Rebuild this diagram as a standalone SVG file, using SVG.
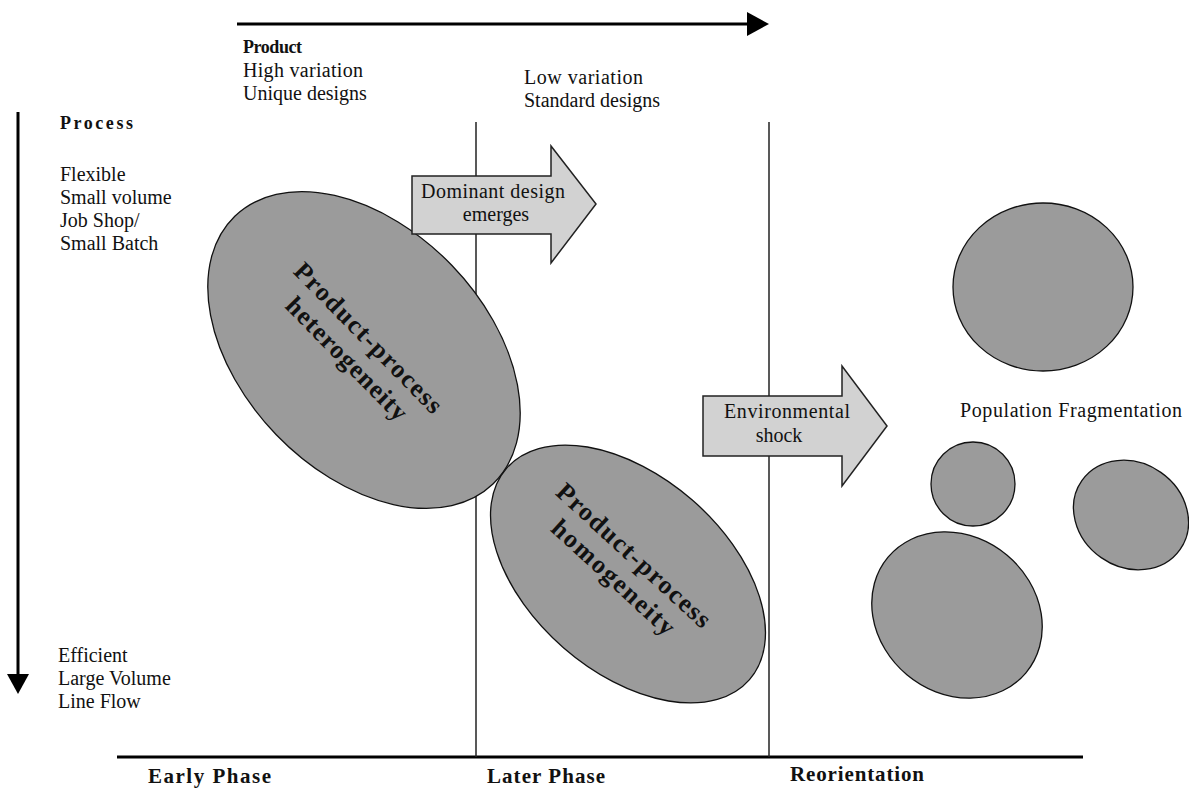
<svg xmlns="http://www.w3.org/2000/svg" width="1189" height="791" viewBox="0 0 1189 791">
<style>
  .t { font-family: "Liberation Serif", "Times New Roman", serif; font-size: 20px; fill: #111; }
  .b { font-family: "Liberation Serif", "Times New Roman", serif; font-weight: bold; fill: #111; }
  .blob { fill: #9b9b9b; stroke: #111; stroke-width: 1.3; }
  .barrow { fill: #d2d2d2; stroke: #222; stroke-width: 1.5; }
  .phase { stroke: #222; stroke-width: 1.5; fill: none; }
  .axis { stroke: #000; stroke-width: 3; fill: none; }
</style>
<rect width="1189" height="791" fill="#fff"/>

<g id="axes">
  <line class="axis" x1="237" y1="24" x2="750" y2="24"/>
  <polygon points="747,12 769,24 747,36" fill="#000"/>
  <line class="axis" x1="18" y1="112" x2="18" y2="677"/>
  <polygon points="7,674 29,674 18,694" fill="#000"/>
  <line class="axis" x1="117" y1="757" x2="1083" y2="757"/>
</g>

<g id="connectors">
  <line class="phase" x1="476" y1="122" x2="476" y2="757"/>
  <line class="phase" x1="769" y1="122" x2="769" y2="757"/>
</g>

<g id="product-labels">
  <text class="b" x="243" y="53" font-size="18" textLength="59">Product</text>
  <text class="t" x="243" y="77" textLength="120">High variation</text>
  <text class="t" x="243" y="100">Unique designs</text>
  <text class="t" x="524" y="84" textLength="119">Low variation</text>
  <text class="t" x="524" y="107">Standard designs</text>
</g>

<g id="process-labels">
  <text class="b" x="60" y="129" font-size="18" textLength="73">Process</text>
  <text class="t" x="60" y="181">Flexible</text>
  <text class="t" x="60" y="204">Small volume</text>
  <text class="t" x="60" y="227">Job Shop/</text>
  <text class="t" x="60" y="250">Small Batch</text>
  <text class="t" x="58" y="662">Efficient</text>
  <text class="t" x="58" y="685">Large Volume</text>
  <text class="t" x="58" y="708">Line Flow</text>
</g>

<g id="phase-labels">
  <text class="b" x="148" y="783" font-size="21" textLength="123">Early Phase</text>
  <text class="b" x="487" y="783" font-size="21" textLength="118">Later Phase</text>
  <text class="b" x="790" y="781" font-size="21" textLength="134">Reorientation</text>
</g>

<g id="heterogeneity">
  <ellipse class="blob" cx="364" cy="350" rx="186" ry="122" transform="rotate(46 364 350)"/>
  <g transform="translate(358 348) rotate(45.5)">
    <text class="b" x="0" y="-6" font-size="26" text-anchor="middle" textLength="200">Product-process</text>
    <text class="b" x="0" y="24" font-size="26" text-anchor="middle" textLength="162">heterogeneity</text>
  </g>
</g>

<g id="homogeneity">
  <ellipse class="blob" cx="628" cy="574" rx="161" ry="98" transform="rotate(41 628 574)"/>
  <g transform="translate(624 566) rotate(42.6)">
    <text class="b" x="0" y="-6" font-size="26" text-anchor="middle" textLength="200">Product-process</text>
    <text class="b" x="0" y="24" font-size="26" text-anchor="middle" textLength="158">homogeneity</text>
  </g>
</g>

<g id="dominant-design">
  <polygon class="barrow" points="412,176 551,176 551,146 596,204 551,263 551,234 412,234"/>
  <text class="t" x="493" y="198" text-anchor="middle" textLength="144">Dominant design</text>
  <text class="t" x="496" y="221" text-anchor="middle">emerges</text>
</g>

<g id="environmental-shock">
  <polygon class="barrow" points="703,396 842,396 842,366 887,426 842,486 842,456 703,456"/>
  <text class="t" x="787" y="418" text-anchor="middle" textLength="126">Environmental</text>
  <text class="t" x="779" y="442" text-anchor="middle">shock</text>
</g>

<g id="fragments">
  <ellipse class="blob" cx="1043" cy="287" rx="90" ry="84"/>
  <ellipse class="blob" cx="973" cy="484" rx="42" ry="42"/>
  <ellipse class="blob" cx="1131" cy="515" rx="60" ry="52" transform="rotate(35 1131 515)"/>
  <ellipse class="blob" cx="957" cy="615" rx="90" ry="78" transform="rotate(40 957 615)"/>
  <text class="t" x="960" y="417" font-size="19" textLength="222">Population Fragmentation</text>
</g>
</svg>
